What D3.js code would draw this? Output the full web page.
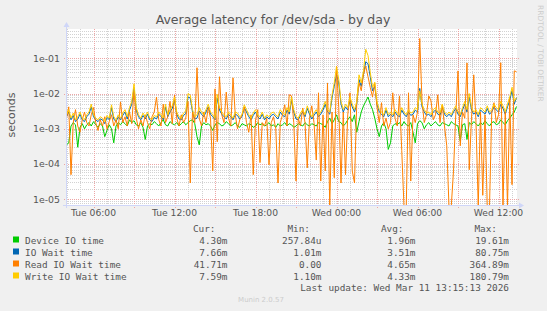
<!DOCTYPE html>
<html><head><meta charset="utf-8">
<script src="https://cdn.jsdelivr.net/npm/d3@7"></script>
<style>
html,body{margin:0;padding:0;background:#F0F0F0;}
svg{display:block;}
</style></head>
<body>
<svg id="chart" width="547" height="311"></svg>
<script>
// ---- data (values in milliseconds, 10-minute samples from Tue 04:00 to Wed 13:20) ----
const startTime = new Date(2026, 2, 10, 4, 0, 0);
const stepMinutes = 10;

const deviceIO = [
0.35,0.4,1.2,1.5,1.3,0.3,1.1,1.4,1.0,1.3,
1.5,1.2,1.6,1.3,1.1,1.4,1.2,0.6,0.9,1.3,
1.0,0.4,1.2,1.5,1.3,1.6,1.4,1.2,1.8,1.5,
1.7,1.3,1.2,1.5,1.1,0.5,1.2,1.4,1.3,1.6,
1.4,1.2,1.5,1.8,1.3,1.2,1.6,1.4,1.3,1.5,
1.2,1.4,1.6,1.3,1.5,1.7,1.8,1.4,0.6,0.35,
1.2,1.5,1.3,1.4,1.2,0.9,1.3,1.5,1.4,1.2,
1.3,1.6,1.4,1.2,1.3,1.5,1.2,1.1,1.4,1.3,
1.2,1.4,1.3,1.1,1.2,1.5,1.3,1.4,1.2,1.3,
1.5,1.2,1.3,1.1,1.4,1.2,1.3,1.5,1.2,1.4,
1.3,1.1,1.2,1.4,1.3,1.2,1.5,1.3,1.2,1.4,
1.3,1.2,1.5,1.4,1.3,1.1,1.6,2.0,1.4,1.8,
2.5,1.6,1.5,1.2,1.4,1.8,2.2,1.6,2.5,0.8,
1.6,3.0,4.5,6.0,8.0,5.0,3.5,2.0,1.0,0.6,
1.2,1.5,1.0,0.26,0.4,1.2,1.4,1.3,1.5,1.2,
1.6,1.3,1.2,1.5,0.8,0.4,1.4,1.7,1.5,1.0,
1.3,1.5,1.2,1.4,1.6,1.3,1.2,1.5,1.4,1.3,
1.2,1.6,1.4,1.3,1.2,0.45,1.3,1.4,0.5,1.5,
1.3,1.6,1.4,1.2,1.5,1.3,1.7,1.4,1.2,1.5,
1.6,1.3,1.4,1.8,1.5,1.3,1.7,2.0,2.5,3.0,
4.3];

const ioWait = [
2.2,3.0,1.8,2.4,1.6,1.9,2.6,1.8,1.6,2.2,
2.6,4.2,2.2,1.8,1.6,1.9,1.8,1.4,2.1,1.8,
4.0,1.9,1.6,2.2,1.8,2.4,3.0,1.9,3.4,5.0,
14.0,3.4,2.2,1.8,2.4,1.9,2.6,1.8,1.6,2.1,
1.9,2.6,2.2,1.8,4.2,2.2,3.0,3.8,6.5,2.6,
1.9,1.8,2.4,2.7,8.0,7.5,3.0,1.9,2.0,3.2,
2.6,2.2,3.0,4.2,2.6,2.2,1.8,7.5,3.4,2.6,
2.2,1.9,2.6,2.2,1.8,2.6,2.4,1.9,2.2,4.0,
3.0,2.2,1.8,2.4,3.0,2.2,1.9,2.6,1.8,2.2,
1.9,2.4,2.6,2.2,1.9,3.0,2.4,2.2,3.4,2.6,
6.5,3.0,1.9,1.8,2.4,3.0,2.2,3.8,2.6,1.9,
2.4,3.0,2.2,2.6,3.4,5.0,3.0,2.6,7.5,16.0,
35.0,20.0,5.0,3.0,4.2,3.4,6.5,4.2,3.0,5.0,
25.0,16.0,35.0,80.0,70.0,30.0,12.0,16.0,5.0,3.0,
2.6,2.2,3.4,2.2,2.6,2.2,3.0,2.4,2.2,3.4,
2.6,2.2,3.0,2.4,2.6,3.4,3.0,14.0,4.2,3.0,
2.4,2.6,2.2,3.0,3.4,2.6,2.4,4.2,2.6,2.2,
2.6,2.2,3.0,3.8,2.6,2.2,3.4,5.0,3.0,8.0,
3.4,2.6,3.0,2.2,3.4,3.0,2.6,3.8,2.6,3.0,
4.2,3.4,3.0,5.0,3.8,2.6,4.2,6.5,12.0,5.0,
7.66];

const readIOWait = [
2.0,4.2,0.05,1.5,3.5,1.2,0.8,1.8,3.0,1.5,
1.2,2.5,4.0,1.5,0.9,1.8,1.2,2.2,1.0,1.6,
2.5,1.2,1.8,1.0,5.8,1.5,2.2,1.2,3.0,1.4,
12.0,2.0,1.0,1.8,1.2,2.5,1.5,1.0,2.2,3.0,
8.0,1.8,1.2,5.0,1.5,2.2,6.0,1.4,9.0,2.0,
1.2,2.5,1.5,2.0,6.0,0.029,3.0,1.5,54.0,2.0,
1.2,3.0,1.5,4.0,2.0,0.064,13.6,0.43,30.0,2.5,
1.5,11.0,2.0,1.2,28.0,2.5,1.0,1.8,2.5,4.2,
1.5,0.8,2.5,0.05,1.8,3.5,0.11,1.5,1.2,2.0,
0.095,1.5,2.2,1.0,0.029,1.5,2.5,4.8,1.2,9.2,
8.6,1.5,0.033,2.0,1.2,3.9,1.5,0.078,2.0,4.5,
1.5,0.13,10.5,0.033,2.5,0.064,20.0,0,3.0,0.041,
60.0,4.0,0.029,3.0,0.05,2.5,10.5,0.064,0.029,5.5,
20.0,12.0,35.0,60.0,30.0,15.0,8.0,20.0,4.0,1.5,
5.5,1.2,2.0,1.0,1.5,10.5,2.0,1.2,8.6,0.24,
0,0,10.5,0.033,2.5,1.5,3.0,365.0,6.0,1.5,
2.5,8.6,6.2,1.8,2.5,9.2,1.5,4.8,1.2,0.33,
0,0,0.064,2.5,44.0,0.33,3.0,2.0,74.0,0.069,
2.0,34.0,1.5,0,3.0,0.013,2.5,0,0,3.0,
5.5,1.5,2.5,75.0,0,3.0,0,7.6,0.026,44.0,
41.71];

const writeIOWait = [
2.5,3.5,2.0,2.8,1.8,2.2,3.0,2.0,1.8,2.5,
3.0,5.0,2.5,2.0,1.8,2.2,2.0,1.6,2.4,2.0,
4.8,2.2,1.8,2.5,2.0,2.8,3.5,2.2,4.0,6.0,
19.0,4.0,2.5,2.0,2.8,2.2,3.0,2.0,1.8,2.4,
2.2,3.0,2.5,2.0,5.0,2.5,3.5,4.5,8.0,3.0,
2.2,2.0,2.8,3.2,10.0,9.0,3.5,2.2,2.5,4.0,
3.0,2.5,3.5,5.0,3.0,2.5,2.0,9.5,4.0,3.0,
2.5,2.2,3.0,2.5,2.0,3.0,2.8,2.2,2.5,4.8,
3.5,2.5,2.0,2.8,3.5,2.5,2.2,3.0,2.0,2.5,
2.2,2.8,3.0,2.5,2.2,3.5,2.8,2.5,4.0,3.0,
8.0,3.5,2.2,2.0,2.8,3.5,2.5,4.5,3.0,2.2,
2.8,3.5,2.5,3.0,4.0,6.0,3.5,3.0,9.0,20.0,
58.0,25.0,6.0,3.5,5.0,4.0,8.0,5.0,3.5,6.0,
34.0,20.0,45.0,180.0,120.0,40.0,15.0,21.0,6.0,3.5,
3.0,2.5,4.0,2.5,3.0,2.5,3.5,2.8,2.5,4.0,
3.0,2.5,3.5,2.8,3.0,4.0,3.5,12.0,5.0,3.5,
2.8,3.0,2.5,3.5,4.0,3.0,2.8,5.0,3.0,2.5,
3.0,2.5,3.5,4.5,3.0,2.5,4.0,6.0,3.5,10.0,
4.0,3.0,3.5,2.5,4.0,3.5,3.0,4.5,3.0,3.5,
5.0,4.0,3.5,6.0,4.5,3.0,5.0,8.0,15.0,6.0,
7.59];

const seriesNames = ["Device IO time", "IO Wait time", "Read IO Wait time", "Write IO Wait time"];
const seriesColors = ["#00CC00", "#0066B3", "#FF8000", "#FFCC00"];
const legendCur = ["4.30m", "7.66m", "41.71m", "7.59m"];
const legendMin = ["257.84u", "1.01m", "0.00", "1.10m"];
const legendAvg = ["1.96m", "3.51m", "4.65m", "4.33m"];
const legendMax = ["19.61m", "80.75m", "364.89m", "180.79m"];
const yTickValues = [1e-1, 1e-2, 1e-3, 1e-4, 1e-5];
const yTickLabels = ["1e-01", "1e-02", "1e-03", "1e-04", "1e-05"];

// ---- layout ----
const svg = d3.select("#chart");
const W = 547, H = 311;
const plot = {left: 66, right: 517, top: 29, bottom: 205};
const FONT = "DejaVu Sans, sans-serif";
const MONO = "DejaVu Sans Mono, monospace";
const TXT = "#555555";

svg.append("rect").attr("width", W).attr("height", H).attr("fill", "#F0F0F0");
svg.append("rect").attr("x", plot.left).attr("y", plot.top)
  .attr("width", plot.right - plot.left).attr("height", plot.bottom - plot.top).attr("fill", "#FFFFFF");

const endTime = new Date(startTime.getTime() + (deviceIO.length - 1) * stepMinutes * 60000);
const x = d3.scaleTime().domain([startTime, endTime]).range([66.5, 516.5]);
const y = d3.scaleLog().domain([6.9e-6, 0.678]).range([plot.bottom, plot.top]);

// grid: minor horizontal
const gMinorH = [];
for (let e = -6; e <= -1; e++) for (let m = 2; m <= 9; m++) {
  const v = m * Math.pow(10, e);
  if (v > y.domain()[0] && v < y.domain()[1]) gMinorH.push(v);
}
const MINOR = "#D2D2D2", MAJOR = "#EDA5A5";
const grid = svg.append("g");
grid.selectAll(".mh").data(gMinorH).join("line")
  .attr("x1", plot.left).attr("x2", plot.right)
  .attr("y1", d => Math.round(y(d)) + 0.5).attr("y2", d => Math.round(y(d)) + 0.5)
  .attr("stroke", MINOR).attr("stroke-dasharray", "1,1");
// minor vertical (hourly)
const hours = d3.timeHour.every(1).range(startTime, new Date(endTime.getTime() + 1));
grid.selectAll(".mv").data(hours.filter(d => d.getHours() % 3 !== 0)).join("line")
  .attr("x1", d => Math.round(x(d)) + 0.5).attr("x2", d => Math.round(x(d)) + 0.5)
  .attr("y1", plot.top).attr("y2", plot.bottom)
  .attr("stroke", MINOR).attr("stroke-dasharray", "1,1");
// major horizontal
grid.selectAll(".Mh").data(yTickValues).join("line")
  .attr("x1", plot.left - 2).attr("x2", plot.right + 2)
  .attr("y1", d => Math.round(y(d)) + 0.5).attr("y2", d => Math.round(y(d)) + 0.5)
  .attr("stroke", MAJOR).attr("stroke-dasharray", "1,1");
// major vertical (3-hourly)
grid.selectAll(".Mv").data(hours.filter(d => d.getHours() % 3 === 0)).join("line")
  .attr("x1", d => Math.round(x(d)) + 0.5).attr("x2", d => Math.round(x(d)) + 0.5)
  .attr("y1", plot.top).attr("y2", plot.bottom + 3)
  .attr("stroke", MAJOR).attr("stroke-dasharray", "1,1");

// ---- series lines ----
svg.append("clipPath").attr("id", "clip").append("rect")
  .attr("x", plot.left).attr("y", plot.top).attr("width", plot.right - plot.left + 1).attr("height", plot.bottom - plot.top);
const series = [deviceIO, ioWait, readIOWait, writeIOWait];
const line = d3.line()
  .x((d, i) => x(new Date(startTime.getTime() + i * stepMinutes * 60000)))
  .y(d => y(Math.max(d / 1000, y.domain()[0] * 0.9)));
const lines = svg.append("g").attr("clip-path", "url(#clip)");
series.forEach((s, k) => {
  lines.append("path").attr("d", line(s)).attr("fill", "none")
    .attr("stroke", seriesColors[k]).attr("stroke-width", 1).attr("stroke-linejoin", "miter");
});

// ---- axes ----
const AX = "#CFD6F8";
svg.append("line").attr("x1", plot.left - 3).attr("x2", plot.right + 2)
  .attr("y1", plot.bottom + 0.5).attr("y2", plot.bottom + 0.5).attr("stroke", AX);
svg.append("line").attr("x1", plot.left + 0.5).attr("x2", plot.left + 0.5)
  .attr("y1", plot.bottom + 3).attr("y2", plot.top - 2).attr("stroke", AX);
svg.append("path").attr("d", `M${plot.right + 2},${plot.bottom - 2.5}L${plot.right + 7},${plot.bottom + 0.5}L${plot.right + 2},${plot.bottom + 3.5}Z`).attr("fill", AX);
svg.append("path").attr("d", `M${plot.left - 2.5},${plot.top - 2}L${plot.left + 0.5},${plot.top - 7}L${plot.left + 3.5},${plot.top - 2}Z`).attr("fill", AX);

// y tick labels
svg.selectAll(".yl").data(yTickValues).join("text")
  .attr("x", 60).attr("y", d => y(d) + 3.4)
  .attr("text-anchor", "end").attr("font-family", FONT).attr("font-size", 9.4)
  .attr("fill", TXT).text((d, i) => yTickLabels[i]);

// x tick labels
const labelHours = hours.filter(d => d.getHours() % 6 === 0);
const fmt = d3.timeFormat("%a %H:%M");
svg.selectAll(".xl").data(labelHours).join("text")
  .attr("x", d => x(d)).attr("y", 215.5)
  .attr("text-anchor", "middle").attr("font-family", FONT).attr("font-size", 9.2)
  .attr("fill", TXT).text(d => fmt(d));

// title
svg.append("text").attr("x", 273).attr("y", 24).attr("text-anchor", "middle")
  .attr("font-family", FONT).attr("font-size", 12.5).attr("fill", TXT)
  .text("Average latency for /dev/sda - by day");
// y label
svg.append("text").attr("transform", "translate(15,115) rotate(-90)").attr("text-anchor", "middle")
  .attr("font-family", FONT).attr("font-size", 11).attr("fill", TXT).text("seconds");
// watermark
svg.append("text").attr("transform", "translate(538,5) rotate(90)").attr("text-anchor", "start")
  .attr("font-family", FONT).attr("font-size", 7.5).attr("fill", "#CCCCCC").text("RRDTOOL / TOBI OETIKER");

// ---- legend ----
const lg = svg.append("g").attr("font-family", MONO).attr("font-size", 9.4).attr("fill", TXT);
const heads = [["Cur:", 215.5], ["Min:", 310], ["Avg:", 403.5], ["Max:", 497]];
heads.forEach(h => lg.append("text").attr("x", h[1]).attr("y", 231.5).attr("text-anchor", "end").text(h[0]));
const cols = [[legendCur, 227.5], [legendMin, 321.5], [legendAvg, 415.5], [legendMax, 509]];
seriesNames.forEach((n, k) => {
  const by = 243.5 + k * 12;
  lg.append("rect").attr("x", 13).attr("y", by - 7).attr("width", 6).attr("height", 6).attr("fill", seriesColors[k]);
  lg.append("text").attr("x", 25).attr("y", by).text(n);
  cols.forEach(c => lg.append("text").attr("x", c[1]).attr("y", by).attr("text-anchor", "end").text(c[0][k]));
});
lg.append("text").attr("x", 509).attr("y", 291).attr("text-anchor", "end")
  .text("Last update: Wed Mar 11 13:15:13 2026");
svg.append("text").attr("x", 261).attr("y", 302).attr("text-anchor", "middle")
  .attr("font-family", FONT).attr("font-size", 7).attr("fill", "#CCCCCC").text("Munin 2.0.57");
</script>
</body></html>
